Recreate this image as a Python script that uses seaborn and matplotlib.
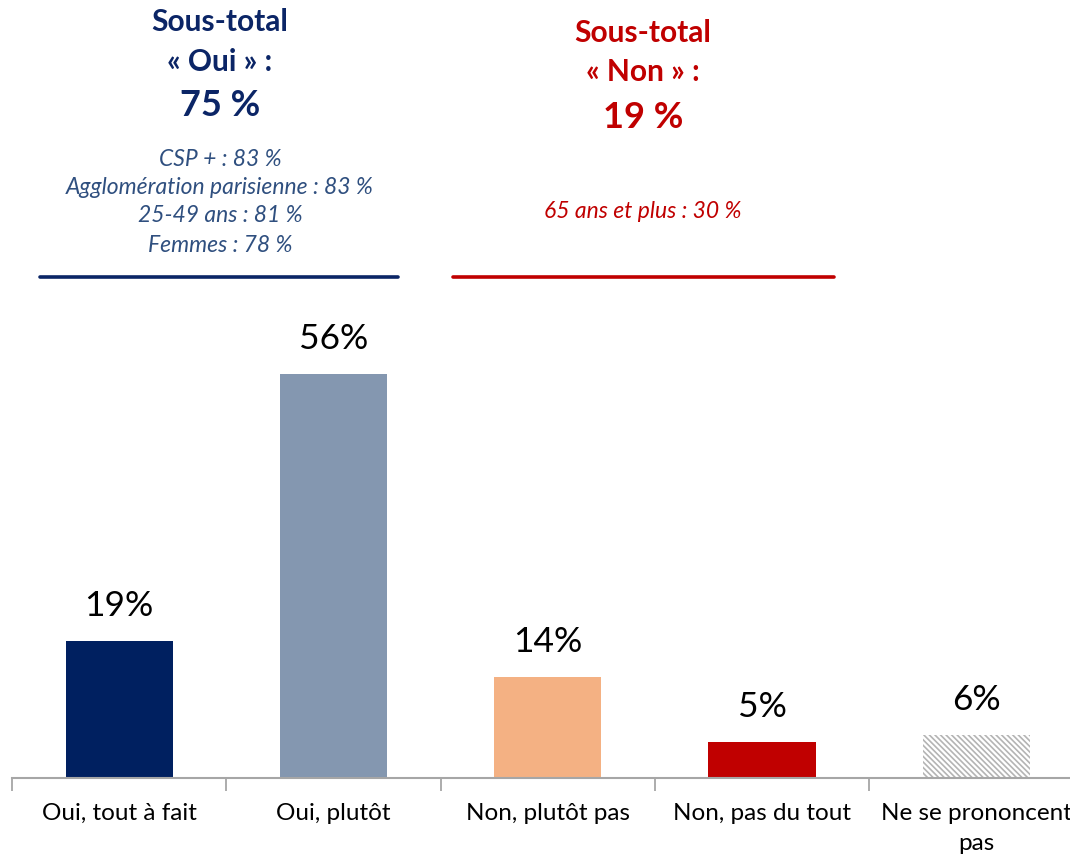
import matplotlib
matplotlib.use("Agg")
import matplotlib.pyplot as plt
from matplotlib.lines import Line2D
import seaborn as sns
import pandas as pd

categories = ["Oui, tout à fait", "Oui, plutôt", "Non, plutôt pas", "Non, pas du tout", "Ne se prononcent\npas"]
values = [19, 56, 14, 5, 6]
bar_colors = ["#002060", "#8497B0", "#F4B183", "#C00000", "#FFFFFF"]

oui_title = ["Sous-total", "« Oui » :"]
oui_total = "75 %"
oui_details = ["CSP + : 83 %", "Agglomération parisienne : 83 %", "25-49 ans : 81 %", "Femmes : 78 %"]
non_title = ["Sous-total", "« Non » :"]
non_total = "19 %"
non_details = ["65 ans et plus : 30 %"]

W, H = 1070, 857
sns.set_theme(style="white")
plt.rcParams["font.family"] = ["Lato", "DejaVu Sans"]
plt.rcParams["hatch.linewidth"] = 1.2

fig = plt.figure(figsize=(W / 100, H / 100), dpi=100)
base_px = 778
left_px = 12
cat_w = 214.3
ax = fig.add_axes([left_px / W, (H - base_px) / H, 5 * cat_w / W, base_px / H])

df = pd.DataFrame({"cat": categories, "val": values})
sns.barplot(data=df, x="cat", y="val", hue="cat", palette=bar_colors,
            width=0.5, legend=False, ax=ax, saturation=1)

for i, p in enumerate(ax.patches):
    p.set_edgecolor("none")
    if i == len(ax.patches) - 1:
        p.set_facecolor("white")
        p.set_hatch("\\\\\\\\\\\\")
        p.set_edgecolor("#B4B4B4")
        p.set_linewidth(0)

px_per_pct = 7.21
ax.set_ylim(0, base_px / px_per_pct)
ax.set_xlim(-0.5, 4.5)

for i, v in enumerate(values):
    ax.text(i, v + 35 / px_per_pct, f"{v}%", ha="center", va="center", fontsize=25.5, color="black")

ax.set_xlabel("")
ax.set_ylabel("")
ax.set_yticks([])
ax.set_xticks(range(len(categories)))
ax.set_xticklabels(categories, fontsize=17.5, color="black", linespacing=1.55, va="top")
ax.set_xticks([x - 0.5 for x in range(len(categories) + 1)], minor=True)
ax.tick_params(axis="x", which="major", length=0, pad=18)
ax.tick_params(axis="x", which="minor", length=9, width=1.3, color="#A6A6A6", direction="out", bottom=True)
for s in ["top", "right", "left"]:
    ax.spines[s].set_visible(False)
ax.spines["bottom"].set_color("#A6A6A6")
ax.spines["bottom"].set_linewidth(1.5)
ax.patch.set_alpha(0)


def fy(py):
    return 1 - py / H


navy = "#0B2566"
navy_it = "#2F4F7F"
red = "#C00000"

# Oui block
cx = 220 / W
fig.text(cx, fy(22), oui_title[0], ha="center", va="center", fontsize=21.5, fontweight="bold", color=navy)
fig.text(cx, fy(62), oui_title[1], ha="center", va="center", fontsize=21.5, fontweight="bold", color=navy)
fig.text(cx, fy(106), oui_total, ha="center", va="center", fontsize=26, fontweight="bold", color=navy)
for py, t in zip([159, 187, 216, 245], oui_details):
    fig.text(cx, fy(py), t, ha="center", va="center", fontsize=16.5, fontstyle="italic", color=navy_it)
fig.add_artist(Line2D([40 / W, 398 / W], [fy(277), fy(277)], color="#0B2566", lw=2.6))

# Non block
cx2 = 643 / W
fig.text(cx2, fy(33), non_title[0], ha="center", va="center", fontsize=21.5, fontweight="bold", color=red)
fig.text(cx2, fy(72), non_title[1], ha="center", va="center", fontsize=21.5, fontweight="bold", color=red)
fig.text(cx2, fy(117), non_total, ha="center", va="center", fontsize=26, fontweight="bold", color=red)
for py, t in zip([211], non_details):
    fig.text(cx2, fy(py), t, ha="center", va="center", fontsize=16.5, fontstyle="italic", color=red)
fig.add_artist(Line2D([453 / W, 834 / W], [fy(277), fy(277)], color=red, lw=2.6))

fig.savefig("out.png", dpi=100)
